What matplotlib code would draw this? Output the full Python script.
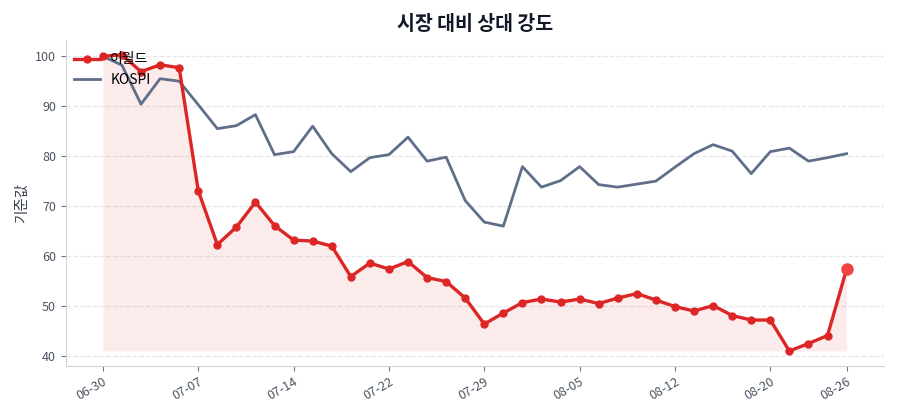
import matplotlib
matplotlib.use("Agg")
import matplotlib.pyplot as plt
import numpy as np

plt.rcParams['font.family'] = ['Noto Sans CJK KR', 'DejaVu Sans']

# 거래일 (MM-DD)
dates = ["06-30", "07-01", "07-02", "07-03", "07-04",
         "07-07", "07-08", "07-09", "07-10", "07-11",
         "07-14", "07-15", "07-16", "07-17", "07-18",
         "07-22", "07-23", "07-24", "07-25", "07-28",
         "07-29", "07-30", "07-31", "08-01", "08-04",
         "08-05", "08-06", "08-07", "08-08", "08-11",
         "08-12", "08-13", "08-14", "08-18", "08-19",
         "08-20", "08-21", "08-22", "08-25", "08-26"]

# 기준값 (첫날 = 100)
eworld = [100.0, 100.3, 96.9, 98.3, 97.7, 73.1, 62.3, 65.8, 70.8, 66.1,
          63.2, 63.0, 62.0, 55.9, 58.6, 57.4, 58.9, 55.7, 54.9, 51.6,
          46.4, 48.6, 50.7, 51.4, 50.8, 51.4, 50.5, 51.6, 52.5, 51.2,
          49.9, 49.0, 50.1, 48.1, 47.2, 47.2, 41.0, 42.5, 44.1, 57.4]
kospi = [100.0, 98.2, 90.4, 95.5, 95.0, 90.3, 85.5, 86.1, 88.3, 80.3,
         80.9, 86.0, 80.5, 76.9, 79.7, 80.3, 83.8, 79.0, 79.8, 71.1,
         66.8, 66.0, 77.9, 73.8, 75.1, 77.9, 74.3, 73.8, 74.4, 75.0,
         77.8, 80.5, 82.3, 81.0, 76.5, 80.9, 81.6, 79.0, 79.7, 80.5]

x = np.arange(len(dates))
red = "#dc2626"
slate = "#5f6f89"

fig, ax = plt.subplots(figsize=(9, 4.2), dpi=100)
fig.subplots_adjust(left=0.073, right=0.982, bottom=0.129, top=0.905)

ax.fill_between(x, eworld, min(eworld), color=red, alpha=0.09, linewidth=0)
ax.plot(x, eworld, color=red, lw=2.4, marker="o", ms=5, label="이월드", zorder=3)
ax.plot(x, kospi, color=slate, lw=2, label="KOSPI", zorder=2)
ax.plot(x[-1], eworld[-1], "o", color="#ef4444", ms=8, zorder=4)

ticks = list(range(0, len(x), 5))
if ticks[-1] != len(x) - 1:
    ticks.append(len(x) - 1)
ax.set_xticks(ticks)
ax.set_xticklabels([dates[i] for i in ticks], rotation=30, ha="right",
                   rotation_mode="anchor")

ax.set_title("시장 대비 상대 강도", fontsize=14, fontweight="bold",
             color="#111827", pad=7)
ax.set_ylabel("기준값", fontsize=10.5, color="#374151")

ax.grid(axis="y", linestyle="--", color="#e5e7eb", linewidth=0.9)
ax.set_axisbelow(True)
for s in ["top", "right"]:
    ax.spines[s].set_visible(False)
for s in ["left", "bottom"]:
    ax.spines[s].set_color("#d1d5db")
ax.tick_params(colors="#4b5563", labelsize=9)
ax.tick_params(axis="both", color="#6b7280")

ax.legend(loc="upper left", frameon=False, fontsize=10,
          borderaxespad=0.5, handlelength=1.9, handletextpad=0.7,
          bbox_to_anchor=(-0.005, 1))

plt.savefig("out.png", dpi=100)
